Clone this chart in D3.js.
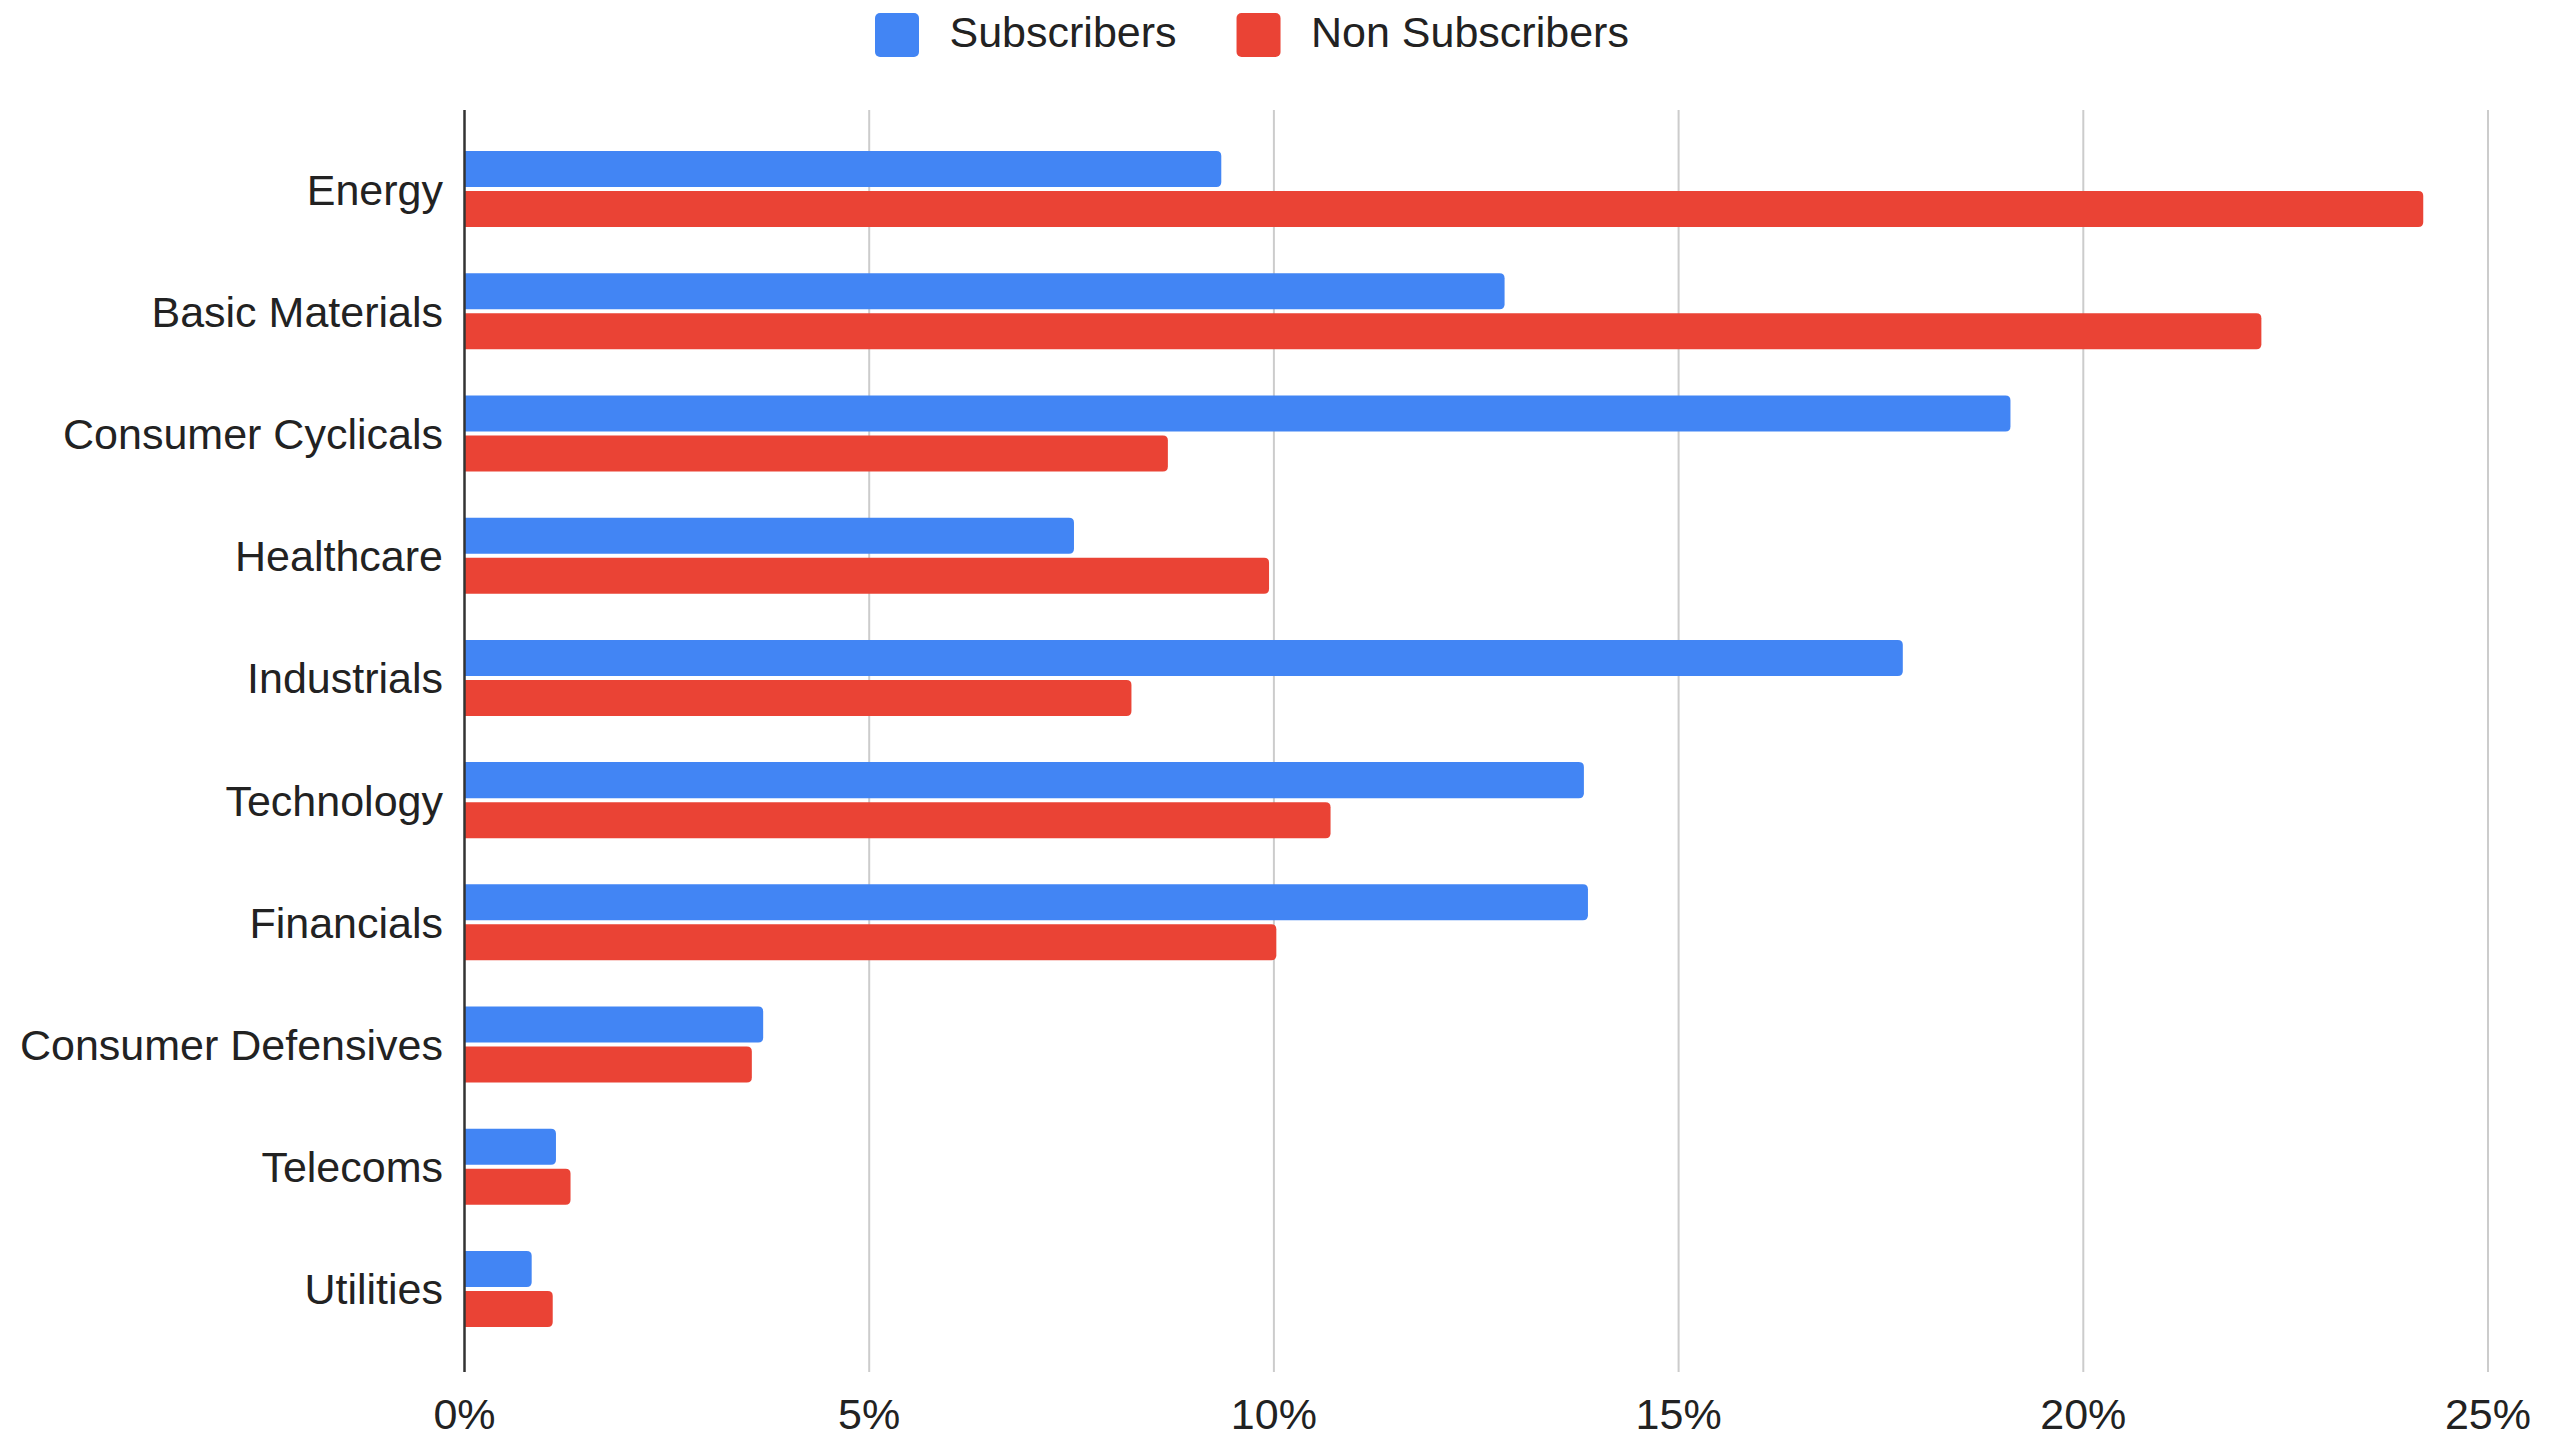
<!DOCTYPE html>
<html>
<head>
<meta charset="utf-8">
<script src="https://cdn.jsdelivr.net/npm/d3@7"></script>
<style>
  html, body { margin: 0; padding: 0; background: #fff; }
  svg { display: block; font-family: "Liberation Sans", Arial, sans-serif; }
</style>
</head>
<body>
<svg id="chart" width="2558" height="1435"></svg>
<script>
const categories = ["Energy", "Basic Materials", "Consumer Cyclicals", "Healthcare", "Industrials",
  "Technology", "Financials", "Consumer Defensives", "Telecoms", "Utilities"];
const seriesNames = ["Subscribers", "Non Subscribers"];
const subscribers = [0.0935, 0.1285, 0.1910, 0.0753, 0.1777, 0.1383, 0.1388, 0.0369, 0.0113, 0.0083];
const nonSubscribers = [0.2420, 0.2220, 0.0869, 0.0994, 0.0824, 0.1070, 0.1003, 0.0355, 0.0131, 0.0109];
const xTicks = [0, 0.05, 0.10, 0.15, 0.20, 0.25];
const colors = ["#4285F4", "#EA4335"];

(function () {
const svg = d3.select("#chart");
const plotLeft = 464.5, plotRight = 2488, plotTop = 110, plotBottom = 1372;

const x = d3.scaleLinear().domain([0, 0.25]).range([plotLeft, plotRight]);
const y = d3.scaleBand().domain(categories).range([plotTop, plotBottom])
  .paddingInner(0.378).paddingOuter(0.352).align(0.477);
const ys = d3.scaleBand().domain(seriesNames).range([0, y.bandwidth()]).paddingInner(0.1);

// gridlines
svg.append("g").selectAll("line").data(xTicks.filter(d => d > 0)).join("line")
  .attr("x1", d => x(d)).attr("x2", d => x(d))
  .attr("y1", plotTop).attr("y2", plotBottom)
  .attr("stroke", "#cccccc").attr("stroke-width", 2);

// bars
const rows = categories.map((c, i) => ({ cat: c, vals: [subscribers[i], nonSubscribers[i]] }));
function barPath(x0, y0, w, h, r) {
  r = Math.min(r, w / 2, h / 2);
  return `M${x0},${y0}H${x0 + w - r}Q${x0 + w},${y0} ${x0 + w},${y0 + r}V${y0 + h - r}Q${x0 + w},${y0 + h} ${x0 + w - r},${y0 + h}H${x0}Z`;
}
const g = svg.append("g");
rows.forEach(row => {
  row.vals.forEach((v, j) => {
    const y0 = y(row.cat) + ys(seriesNames[j]);
    g.append("path")
      .attr("d", barPath(x(0), y0, x(v) - x(0), ys.bandwidth(), 5))
      .attr("fill", colors[j]);
  });
});

// axis line (zero)
svg.append("line").attr("x1", x(0)).attr("x2", x(0)).attr("y1", plotTop).attr("y2", plotBottom)
  .attr("stroke", "#333333").attr("stroke-width", 2.5);

// x tick labels
svg.append("g").selectAll("text").data(xTicks).join("text")
  .attr("x", d => x(d)).attr("y", 1429)
  .attr("text-anchor", "middle").attr("font-size", 43).attr("fill", "#222")
  .text(d => d3.format(".0%")(d));

// category labels
svg.append("g").selectAll("text").data(categories).join("text")
  .attr("x", 443).attr("y", d => y(d) + y.bandwidth() / 2 + 15.5)
  .attr("text-anchor", "end").attr("font-size", 43).attr("fill", "#222")
  .text(d => d);

// legend
const legend = svg.append("g");
let lx = 875;
seriesNames.forEach((name, i) => {
  legend.append("rect").attr("x", lx).attr("y", 13).attr("width", 44).attr("height", 44)
    .attr("rx", 5).attr("fill", colors[i]);
  const t = legend.append("text").attr("x", lx + 74.5).attr("y", 47)
    .attr("font-size", 43).attr("fill", "#222").text(name);
  lx = lx + 74.5 + t.node().getComputedTextLength() + 60;
});
})();
</script>
</body>
</html>
